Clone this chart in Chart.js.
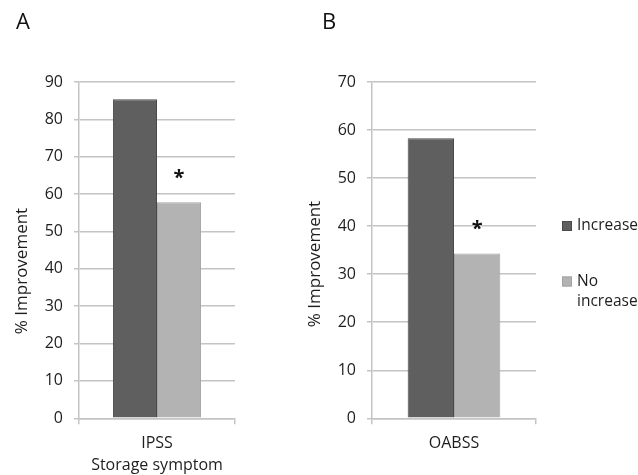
<!DOCTYPE html>
<html>
<head>
<meta charset="utf-8">
<script src="https://cdn.jsdelivr.net/npm/chart.js@4.4.1/dist/chart.umd.min.js"></script>
<style>
  html, body { margin: 0; padding: 0; background: #fff; }
  #wrap { position: relative; width: 638px; height: 475px; overflow: hidden; }
  #cA { position: absolute; left: 0; top: 0; }
  #cB { position: absolute; left: 300px; top: 0; }
</style>
</head>
<body>
<div id="wrap">
  <canvas id="cA" width="300" height="475"></canvas>
  <canvas id="cB" width="338" height="475"></canvas>
</div>
<script>
// ---- data ----
const seriesNames = ["Increase", "No increase"];
const categoriesA = [["IPSS", "Storage symptom"]];
const categoriesB = ["OABSS"];
const increaseA = [85.4];
const noIncreaseA = [57.8];
const increaseB = [58.3];
const noIncreaseB = [34.3];
const yMaxA = 90;
const yMaxB = 70;
const yStep = 10;
const yTitle = "% Improvement";
const panelLabels = ["A", "B"];
const sigMark = "*";

// ---- styles ----
const FONT = "'Open Sans', 'DejaVu Sans', sans-serif";
const darkFill = "#5f5f5f", darkBorder = "#4a4a4a";
const lightFill = "#b3b3b3", lightBorder = "#a3a3a3";
const gridColor = "#c4c4c4";
const textColor = "#1e1e1e";

function decorPlugin(panelLabel, titleCenterY, showLegend) {
  return {
    id: 'decor' + panelLabel,
    afterDraw(chart) {
      const ctx = chart.ctx;
      ctx.save();
      // panel label
      ctx.fillStyle = "#111";
      ctx.font = "22px " + FONT;
      ctx.textAlign = "left";
      ctx.textBaseline = "middle";
      ctx.fillText(panelLabel, panelLabel === "A" ? 16 : 22, 23);
      // y axis title
      ctx.save();
      ctx.fillStyle = textColor;
      ctx.font = "17px " + FONT;
      ctx.textAlign = "center";
      ctx.textBaseline = "middle";
      const tx = panelLabel === "A" ? 22 : 15;
      ctx.translate(tx, titleCenterY);
      ctx.rotate(-Math.PI / 2);
      ctx.fillText(yTitle, 0, 0);
      ctx.restore();
      // significance marker above second bar
      const meta = chart.getDatasetMeta(1);
      const bar = meta.data[0];
      ctx.fillStyle = "#111";
      ctx.font = "bold 20px " + FONT;
      ctx.textAlign = "center";
      ctx.textBaseline = "middle";
      ctx.fillText(sigMark, bar.x, bar.y - 24);
      // legend
      if (showLegend) {
        const ds = chart.data.datasets;
        const lx = 262, items = [{y: 226, lines: ["Increase"]}, {y: 281.5, lines: ["No", "increase"]}];
        items.forEach((it, i) => {
          ctx.fillStyle = ds[i].backgroundColor;
          ctx.fillRect(lx, it.y - 5, 10, 10);
          ctx.strokeStyle = ds[i].borderColor;
          ctx.lineWidth = 1;
          ctx.strokeRect(lx + 0.5, it.y - 4.5, 9, 9);
          ctx.fillStyle = textColor;
          ctx.font = "15.5px " + FONT;
          ctx.textAlign = "left";
          ctx.textBaseline = "middle";
          it.lines.forEach((ln, k) => ctx.fillText(ln, lx + 15, it.y + k * 20.5));
        });
      }
      ctx.restore();
    }
  };
}

function makeChart(id, labels, inc, noinc, yMax, yAxisWidth, rightPad, panelLabel, titleY, showLegend) {
  return new Chart(document.getElementById(id), {
    type: 'bar',
    data: {
      labels: labels,
      datasets: [
        { label: seriesNames[0], data: inc, backgroundColor: darkFill, borderColor: darkBorder, borderWidth: 1 },
        { label: seriesNames[1], data: noinc, backgroundColor: lightFill, borderColor: lightBorder, borderWidth: 1 }
      ]
    },
    options: {
      responsive: false,
      animation: false,
      devicePixelRatio: 1,
      categoryPercentage: 0.565,
      barPercentage: 1,
      layout: { padding: { top: 82, right: rightPad, left: 0, bottom: 0 } },
      plugins: { legend: { display: false }, tooltip: { enabled: false } },
      scales: {
        x: {
          grid: { display: true, drawOnChartArea: false, drawTicks: true, tickLength: 6, color: gridColor, lineWidth: 1.5 },
          border: { display: true, color: gridColor, width: 1.5 },
          ticks: { color: textColor, font: { family: FONT, size: 16, lineHeight: 1.38 }, padding: 8 },
          afterFit(s) { s.height = 475 - 418.3; }
        },
        y: {
          min: 0, max: yMax,
          grid: { color: gridColor, lineWidth: 1.5, tickLength: 5 },
          border: { display: true, color: gridColor, width: 1.5 },
          ticks: { stepSize: yStep, color: textColor, font: { family: FONT, size: 16 }, padding: 11 },
          afterFit(s) { s.width = yAxisWidth; }
        }
      }
    },
    plugins: [decorPlugin(panelLabel, titleY, showLegend)]
  });
}

makeChart('cA', categoriesA, increaseA, noIncreaseA, yMaxA, 79, 65, panelLabels[0], 271, false);
makeChart('cB', categoriesB, increaseB, noIncreaseB, yMaxB, 72, 102, panelLabels[1], 264, true);
</script>
</body>
</html>
